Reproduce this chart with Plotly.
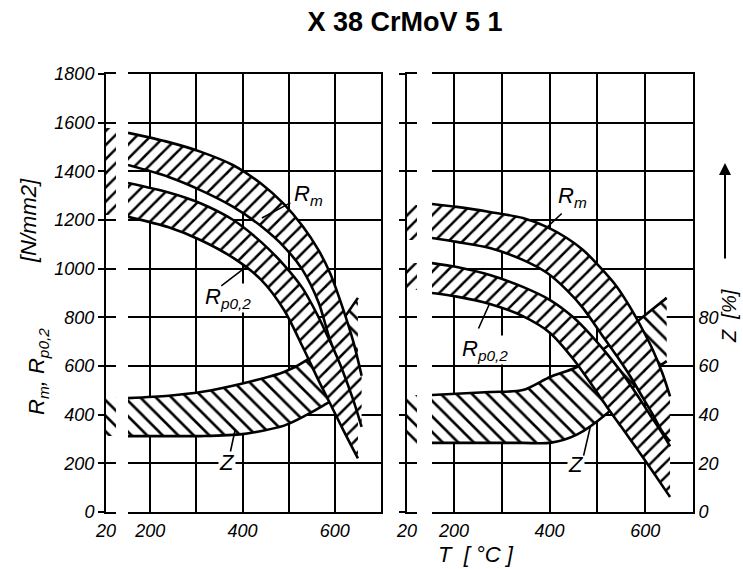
import plotly.graph_objects as go

W, H = 743, 569

# ---------------- data ----------------
T_RT = 20  # room temperature column
# left panel
L_RT_RM = (1390, 1580)
L_RT_RP = (1220, 1390)
L_RT_Z = (31.2, 47.3)

L_RM_T = [152, 240, 310, 380, 440, 490, 530, 565, 590, 615, 640, 658]
L_RM_UP = [1558, 1520, 1480, 1425, 1350, 1265, 1175, 1075, 980, 850, 700, 560]
L_RM_LO = [1426, 1377, 1322, 1254, 1175, 1090, 995, 860, 705, 590, 460, 350]

L_RP_T = [152, 240, 310, 380, 440, 490, 530, 565, 590, 620, 650]
L_RP_UP = [1352, 1313, 1268, 1200, 1110, 1015, 920, 800, 700, 600, 490]
L_RP_LO = [1213, 1170, 1117, 1044, 955, 830, 680, 540, 445, 330, 220]

L_Z_T = [152, 240, 310, 400, 490, 540, 580, 617, 650]
L_Z_UP = [46.8, 47.8, 49.3, 52.8, 57.5, 62.5, 69.0, 78.9, 88.0]
L_Z_LO = [31.2, 31.2, 31.2, 32.0, 35.5, 40.0, 44.3, 48.5, 52.0]

# right panel
R_RT_RM = (1118, 1262)
R_RT_RP = (912, 1023)
R_RT_Z = (27.5, 48.1)

R_RM_T = [154, 206, 275, 344, 395, 436, 470, 505, 541, 568, 595, 616, 636, 652]
R_RM_UP = [1266, 1254, 1233, 1208, 1171, 1126, 1077, 1007, 925, 843, 748, 666, 570, 475]
R_RM_LO = [1126, 1110, 1085, 1036, 982, 912, 838, 740, 640, 560, 470, 400, 330, 290]

R_RP_T = [154, 206, 275, 344, 401, 449, 485, 520, 550, 580, 610, 640, 652]
R_RP_UP = [1023, 1007, 974, 925, 871, 801, 730, 650, 575, 490, 400, 310, 270]
R_RP_LO = [900, 885, 855, 805, 736, 630, 532, 432, 350, 267, 183, 96, 62]

R_Z_T = [154, 275, 344, 401, 457, 520, 595, 645]
R_Z_UP = [48.1, 49.3, 50.1, 55.5, 59.6, 68.0, 80.1, 88.0]
R_Z_LO = [28.4, 28.4, 28.4, 28.4, 31.8, 40.5, 55.0, 62.0]

STRENGTH_TICKS = [0, 200, 400, 600, 800, 1000, 1200, 1400, 1600, 1800]
Z_TICKS = [0, 20, 40, 60, 80]
T_TICKS = [200, 300, 400, 500, 600]
T_TICKTEXT = ['200', '', '400', '', '600']

# ---------------- style ----------------
FONT = 'Liberation Sans Narrow, Liberation Sans, Arial, sans-serif'
LW = 2.6
HATCH_RM = dict(shape='/', fgcolor='black', bgcolor='white', fgopacity=1, fillmode='replace',
                size=10, solidity=0.25)
HATCH_Z = dict(shape='\\', fgcolor='black', bgcolor='white', fgopacity=1, fillmode='replace',
               size=11, solidity=0.24)


def px_x(p):
    return p / W


def px_y(p):
    return 1 - p / H


YDOM = [px_y(512), px_y(74)]

fig = go.Figure()


def band(T, lo, up, xa, ya, pattern):
    fig.add_trace(go.Scatter(x=T, y=lo, xaxis=xa, yaxis=ya, mode='lines',
                             line=dict(color='black', width=LW, shape='spline', smoothing=0.8),
                             showlegend=False, hoverinfo='skip'))
    fig.add_trace(go.Scatter(x=T, y=up, xaxis=xa, yaxis=ya, mode='lines', fill='tonexty',
                             fillpattern=pattern, fillcolor='white',
                             line=dict(color='black', width=LW, shape='spline', smoothing=0.8),
                             showlegend=False, hoverinfo='skip'))


def rt_bar(rng, xa, ya, pattern):
    fig.add_trace(go.Bar(x=[T_RT], y=[rng[1] - rng[0]], base=[rng[0]], xaxis=xa, yaxis=ya,
                         width=[10], offset=0,
                         marker=dict(color='white', line=dict(width=0), pattern=pattern),
                         showlegend=False, hoverinfo='skip'))


# Z bands (bottom layer)
rt_bar(L_RT_Z, 'x', 'y', HATCH_Z)
band(L_Z_T, L_Z_LO, L_Z_UP, 'x2', 'y2', HATCH_Z)
rt_bar(R_RT_Z, 'x3', 'y3', HATCH_Z)
band(R_Z_T, R_Z_LO, R_Z_UP, 'x4', 'y4', HATCH_Z)

# strength bands (overlay layer)
rt_bar(L_RT_RP, 'x', 'y5', HATCH_RM)
rt_bar(L_RT_RM, 'x', 'y5', HATCH_RM)
band(L_RP_T, L_RP_LO, L_RP_UP, 'x2', 'y6', HATCH_RM)
band(L_RM_T, L_RM_LO, L_RM_UP, 'x2', 'y6', HATCH_RM)
rt_bar(R_RT_RP, 'x3', 'y7', HATCH_RM)
rt_bar(R_RT_RM, 'x3', 'y7', HATCH_RM)
band(R_RP_T, R_RP_LO, R_RP_UP, 'x4', 'y8', HATCH_RM)
band(R_RM_T, R_RM_LO, R_RM_UP, 'x4', 'y8', HATCH_RM)

tickfont = dict(family=FONT, size=18, color='black', style='italic')

rt_x = dict(range=[20, 30], tickvals=[20], ticktext=['20'], showgrid=False, zeroline=False,
            showline=True, mirror=True, linecolor='black', linewidth=2, ticks='',
            tickfont=tickfont, ticklabelstandoff=1, fixedrange=True, automargin=False)
main_x = dict(tickvals=T_TICKS, ticktext=T_TICKTEXT, showgrid=True, gridcolor='black', gridwidth=2,
              zeroline=False, showline=True, mirror=True, linecolor='black', linewidth=2,
              ticks='', tickfont=tickfont, ticklabelstandoff=1, fixedrange=True, automargin=False)
hidden_y = dict(domain=YDOM, range=[0, 180], visible=False, fixedrange=True, automargin=False)
strength_grid = dict(range=[0, 1800], tickvals=STRENGTH_TICKS, showgrid=True, gridcolor='black',
                     gridwidth=2, zeroline=False, fixedrange=True, automargin=False)

fig.update_layout(
    width=W, height=H, margin=dict(l=0, r=0, t=0, b=0, pad=0, autoexpand=False),
    paper_bgcolor='white', plot_bgcolor='white',
    barmode='overlay', bargap=0,
    xaxis=dict(domain=[px_x(106), px_x(116)], **rt_x),
    xaxis2=dict(domain=[px_x(128), px_x(381)], range=[152, 700], **main_x),
    xaxis3=dict(domain=[px_x(407), px_x(417)], **rt_x),
    xaxis4=dict(domain=[px_x(432), px_x(693)], range=[154, 700], **main_x),
    yaxis=dict(anchor='x', **hidden_y),
    yaxis2=dict(anchor='x2', **hidden_y),
    yaxis3=dict(anchor='x3', **hidden_y),
    yaxis4=dict(anchor='x4', domain=YDOM, range=[0, 180], tickvals=Z_TICKS, side='right',
                showgrid=False, zeroline=False, showline=True, linecolor='black', linewidth=2,
                ticks='', tickfont=tickfont, ticklabelstandoff=0, fixedrange=True,
                automargin=False),
    yaxis5=dict(anchor='x', overlaying='y', side='left', ticks='outside', ticklen=6, tickwidth=2,
                tickcolor='black', showline=True, linecolor='black', linewidth=2,
                tickfont=tickfont, ticklabelstandoff=0, **strength_grid),
    yaxis6=dict(anchor='x2', overlaying='y2', side='right', showticklabels=False, ticks='',
                showline=True, linecolor='black', linewidth=2, **strength_grid),
    yaxis7=dict(anchor='x3', overlaying='y3', side='left', showticklabels=False, ticks='outside',
                ticklen=6, tickwidth=2, tickcolor='black', showline=True, linecolor='black',
                linewidth=2, **strength_grid),
    yaxis8=dict(anchor='x4', overlaying='y4', side='left', showticklabels=False, ticks='',
                showline=False, **strength_grid),
    title=dict(text='<b>X 38 CrMoV 5 1</b>', x=px_x(405), y=px_y(22), xanchor='center',
               yanchor='middle', automargin=False,
               font=dict(family='Liberation Sans, Arial, sans-serif', size=27, color='black')),
)

lab = dict(family=FONT, size=22, color='black', style='italic')
ann = []


def label(text, x, y, xr, yr, **kw):
    ann.append(dict(text=text, x=x, y=y, xref=xr, yref=yr, showarrow=False, font=lab,
                    bgcolor='white', borderpad=0, xanchor='center', yanchor='middle', **kw))


def pointer(x, y, xr, yr, ax, ay):
    ann.append(dict(text='', x=x, y=y, xref=xr, yref=yr, showarrow=True, arrowhead=0,
                    arrowwidth=1.6, arrowcolor='black', ax=ax, ay=ay, standoff=0, startstandoff=0))


# left panel labels
label('R<sub>m</sub>', 543, 1303, 'x2', 'y6')
pointer(442, 1208, 'x2', 'y6', 30, -16)
label('R<sub>p0,2</sub>', 369, 880, 'x2', 'y6')
pointer(405, 1003, 'x2', 'y6', -25, 19)
label('Z', 366, 20.5, 'x2', 'y2')
pointer(384, 33.7, 'x2', 'y2', -5, 23)
# right panel labels
label('R<sub>m</sub>', 447, 1295, 'x4', 'y8')
pointer(395, 1171, 'x4', 'y8', 16, -15)
label('R<sub>p0,2</sub>', 265, 666, 'x4', 'y8')
pointer(275, 859, 'x4', 'y8', -12, 27)
label('Z', 455, 19.7, 'x4', 'y4')
pointer(485, 34.9, 'x4', 'y4', -7, 30)

# axis titles
ttl = dict(family=FONT, size=22, color='black', style='italic')
pa = dict(xref='paper', yref='paper', showarrow=False, xanchor='center', yanchor='middle', font=ttl)
ann.append(dict(text='R<sub>m</sub>, R<sub>p0,2</sub>', x=px_x(38), y=px_y(372), textangle=-90, **pa))
ann.append(dict(text='[N/mm2]', x=px_x(29), y=px_y(221), textangle=-90, **pa))
ann.append(dict(text='T  [ °C ]', x=px_x(476), y=px_y(554), **pa))
ann.append(dict(text='Z  [%]', x=px_x(729), y=px_y(316), textangle=-90,
                **{**pa, 'font': dict(ttl, size=20)}))
ann.append(dict(text='', x=px_x(725), y=px_y(163), xref='paper', yref='paper', showarrow=True,
                arrowhead=2, arrowsize=1.2, arrowwidth=2, arrowcolor='black', ax=0, ay=97))

fig.update_layout(annotations=ann)
fig.write_html('out.html')
